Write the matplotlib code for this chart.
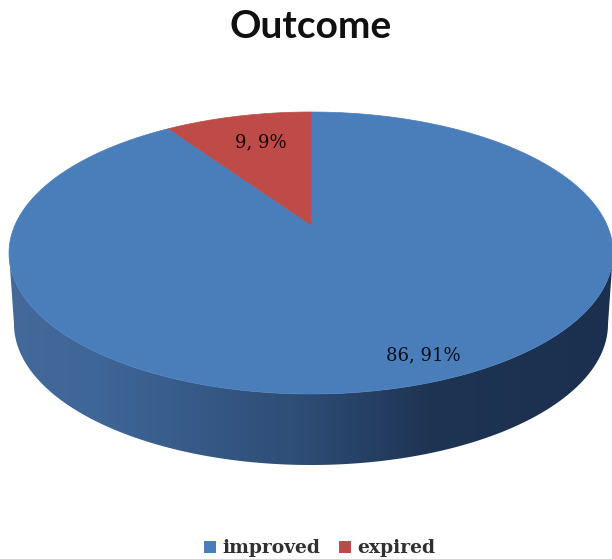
import numpy as np
import matplotlib
matplotlib.use("Agg")
import matplotlib.pyplot as plt
from matplotlib.colors import LinearSegmentedColormap
from matplotlib.patches import Polygon

# Outcome pie, drawn by hand because matplotlib has no 3D pie
labels = ["improved", "expired"]
counts = [86, 9]
slice_labels = ["86, 91%", "9, 9%"]
colors = ["#4a7ebb", "#be4b48"]

# ellipse geometry in pixels of the picture
cx, cy, rx, ry = 311, 253, 302, 141
cx2, cy2, rx2, ry2 = 311, 324, 297, 141
tilt = 0.2  # moves the pie centre towards the back


def rim(angle):
    # point on the unit circle, seen in perspective
    x = np.cos(angle)
    y = np.sin(angle)
    d = 1 + tilt * y
    return cx + rx * x * np.sqrt(1 - tilt**2) / d, cy - ry * (y + tilt) / d


fig = plt.figure(figsize=(6.12, 5.59), dpi=100)
ax = fig.add_axes([0, 0, 1, 1])
ax.set_xlim(0, 612)
ax.set_ylim(559, 0)
ax.axis("off")

# side wall
t = np.linspace(np.pi, 2 * np.pi, 300)
top_x = cx + rx * np.cos(t)
top_y = cy - ry * np.sin(t)
bot_x = cx2 + rx2 * np.cos(t)
bot_y = cy2 - ry2 * np.sin(t)
side = Polygon(np.r_[np.c_[bot_x, bot_y], np.c_[top_x, top_y][::-1]], closed=True,
               transform=ax.transData, fc="none", ec="none")
ax.add_patch(side)
shade = LinearSegmentedColormap.from_list("shade", [
    (0.0, "#44699a"), (0.15, "#3f6698"), (0.5, "#2d4b74"),
    (0.7, "#1e3453"), (1.0, "#1b304e")])
img = ax.imshow(np.linspace(0, 1, 256)[None, :], cmap=shade, extent=(8, 612, 559, 0),
                aspect="auto", zorder=1)
img.set_clip_path(side)
ax.set_xlim(0, 612)
ax.set_ylim(559, 0)

# top face, starting at twelve o'clock
shares = np.array(counts) / sum(counts) * 2 * np.pi
start = np.pi / 2
tip_x, tip_y = cx, cy - ry * tilt
a = np.linspace(start + shares[1], start + shares[1] + shares[0], 400)
x, y = rim(a)
ax.fill(np.r_[tip_x, x], np.r_[tip_y, y], color=colors[0], lw=0.5, zorder=2)
a = np.linspace(start, start + shares[1], 60)
x, y = rim(a)
ax.fill(np.r_[tip_x, x], np.r_[tip_y, y], color=colors[1], lw=0.5, zorder=3)

ax.text(423, 355, slice_labels[0], ha="center", va="center", fontsize=13,
        family="DejaVu Serif", color="#0a1018", zorder=4)
ax.text(261, 142, slice_labels[1], ha="center", va="center", fontsize=13,
        family="DejaVu Serif", color="#180808", zorder=4)

ax.text(311, 27, "Outcome", ha="center", va="center", fontsize=28, weight="bold",
        family="Lato", color="#101010")

# legend
ax.scatter([209.5], [547], marker="s", s=85, color=colors[0], lw=0, zorder=4)
ax.text(222, 548, labels[0], ha="left", va="center", fontsize=13.5,
        family="DejaVu Serif", weight="bold", color="#303030")
ax.scatter([345], [547], marker="s", s=85, color=colors[1], lw=0, zorder=4)
ax.text(357, 548, labels[1], ha="left", va="center", fontsize=13.5,
        family="DejaVu Serif", weight="bold", color="#303030")

fig.savefig("out.png", dpi=100)
plt.close(fig)
